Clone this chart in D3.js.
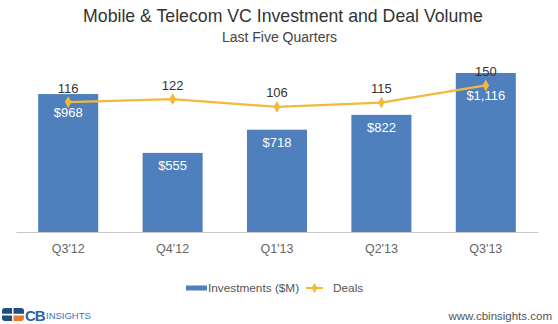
<!DOCTYPE html>
<html><head><meta charset="utf-8">
<script src="https://cdn.jsdelivr.net/npm/d3@7"></script>
<style>html,body{margin:0;padding:0;background:#fff;}svg{display:block;font-family:"Liberation Sans",Arial,sans-serif;}</style>
</head><body>
<svg id="chart" width="558" height="324"></svg>
<script>
const quarters = ["Q3'12","Q4'12","Q1'13","Q2'13","Q3'13"];
const investments = [968, 555, 718, 822, 1116];
const deals = [116, 122, 106, 115, 150];
const investmentLabels = ["$968","$555","$718","$822","$1,116"];
const titleText = "Mobile & Telecom VC Investment and Deal Volume";
const subtitleText = "Last Five Quarters";

const svg = d3.select("#chart");
const barColor = "#4f7fbd", lineColor = "#f3b93b";
const x = d3.scaleBand().domain(quarters).range([16, 538]).paddingInner(0.425).paddingOuter(0.2125);
const yInv = d3.scaleLinear().domain([0, 1200]).range([232, 61]);
const yDeals = d3.scaleLinear().domain([-150, 200]).range([232, 61]);

svg.append("text").attr("x", 283).attr("y", 16).attr("text-anchor","middle").attr("dominant-baseline","central")
  .attr("font-size", 17.7).attr("fill", "#333").text(titleText);
svg.append("text").attr("x", 279.5).attr("y", 36.5).attr("text-anchor","middle").attr("dominant-baseline","central")
  .attr("font-size", 14).attr("fill", "#444").text(subtitleText);

// bars
svg.selectAll("rect.bar").data(quarters).join("rect").attr("class","bar")
  .attr("x", d => x(d)).attr("width", x.bandwidth())
  .attr("y", (d,i) => yInv(investments[i])).attr("height", (d,i) => yInv(0) - yInv(investments[i]))
  .attr("fill", barColor);

// axis
const xAxis = d3.axisBottom(x).tickSize(0).tickPadding(0);
const ax = svg.append("g").attr("transform", "translate(0,232)").call(xAxis);
ax.select(".domain").attr("stroke", "#c8c8c8").attr("stroke-width", 1.2);
ax.selectAll(".tick text").attr("y", 16.5).attr("dy", "0.35em").attr("font-size", 12.5)
  .attr("fill", "#666").attr("font-family", "Liberation Sans, Arial, sans-serif");

// line
const cx = d => x(d) + x.bandwidth()/2;
const line = d3.line().x((d,i) => cx(quarters[i])).y(d => yDeals(d));
svg.append("path").datum(deals).attr("d", line).attr("fill","none").attr("stroke", lineColor).attr("stroke-width", 2.2);
const diamond = d3.symbol().type(d3.symbolDiamond).size(40);
svg.selectAll("path.pt").data(deals).join("path").attr("class","pt")
  .attr("d", diamond).attr("transform", (d,i) => `translate(${cx(quarters[i])},${yDeals(d)})`).attr("fill", lineColor);

// deal labels
svg.selectAll("text.dl").data(deals).join("text").attr("class","dl")
  .attr("x", (d,i) => cx(quarters[i])).attr("y", d => yDeals(d) - 14)
  .attr("text-anchor","middle").attr("dominant-baseline","central").attr("font-size", 13).attr("fill", "#333")
  .text(d => d);

// investment labels
svg.selectAll("text.il").data(investments).join("text").attr("class","il")
  .attr("x", (d,i) => cx(quarters[i]))
  .attr("y", (d,i) => Math.max(yInv(d) + 12.5, yDeals(deals[i]) + 10))
  .attr("text-anchor","middle").attr("dominant-baseline","central").attr("font-size", 13).attr("fill", "#fff")
  .text((d,i) => investmentLabels[i]);

// legend
const lg = svg.append("g");
lg.append("rect").attr("x", 186).attr("y", 285.5).attr("width", 21).attr("height", 5).attr("fill", barColor);
lg.append("text").attr("x", 208).attr("y", 288).attr("dominant-baseline","central").attr("font-size", 11.8).attr("fill","#555").text("Investments ($M)");
lg.append("line").attr("x1", 306).attr("x2", 323).attr("y1", 288).attr("y2", 288).attr("stroke", lineColor).attr("stroke-width", 2);
lg.append("path").attr("d", d3.symbol().type(d3.symbolDiamond).size(30)).attr("transform","translate(314.5,288)").attr("fill", lineColor);
lg.append("text").attr("x", 333).attr("y", 288).attr("dominant-baseline","central").attr("font-size", 11.8).attr("fill","#555").text("Deals");

// logo
const logo = svg.append("g");
const dark = "#1f4e80", orange = "#e97a2c";
logo.append("path").attr("d","M5,308 H12 V313.8 H2 V311 Q2,308 5,308 Z").attr("fill", dark);
logo.append("path").attr("d","M2,315.4 H12 V321 H5 Q2,321 2,318 Z").attr("fill", dark);
logo.append("path").attr("d","M13.5,308 H21 Q24,308 24,311 V313.8 H13.5 Z").attr("fill", dark);
logo.append("path").attr("d","M13.5,315.4 H24 V318 Q24,321 21,321 H13.5 Z").attr("fill", orange);
logo.append("text").attr("x", 25).attr("y", 315).attr("dominant-baseline","central").attr("font-size", 15).attr("font-weight","bold")
  .attr("fill", "#2a64a8").attr("letter-spacing", -1).text("CB");
logo.append("text").attr("x", 46).attr("y", 315.5).attr("dominant-baseline","central").attr("font-size", 9.5)
  .attr("fill", "#3a72b5").text("INSIGHTS");
svg.append("text").attr("x", 552).attr("y", 316).attr("text-anchor","end").attr("dominant-baseline","central")
  .attr("font-size", 11.5).attr("fill","#555").text("www.cbinsights.com");
</script>
</body></html>
